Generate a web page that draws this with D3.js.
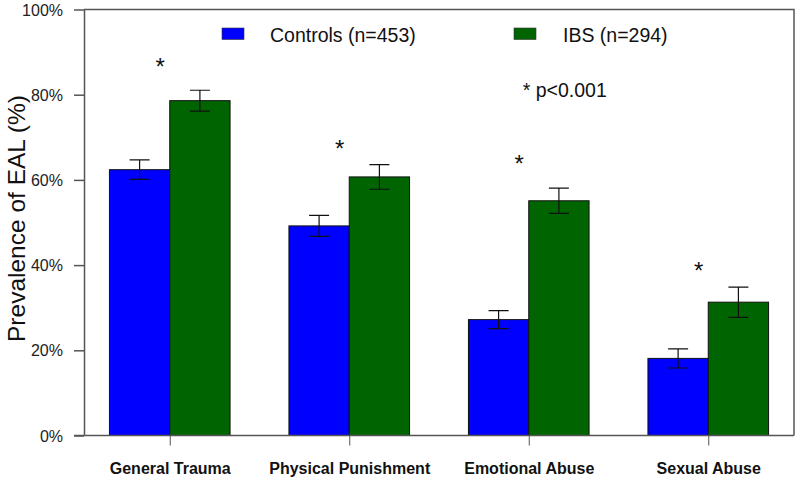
<!DOCTYPE html>
<html>
<head>
<meta charset="utf-8">
<script src="https://cdn.jsdelivr.net/npm/d3@7"></script>
<style>
  html, body { margin: 0; padding: 0; background: #fff; }
  svg { display: block; }
</style>
</head>
<body>
<svg id="chart" width="800" height="483"></svg>
<script>
// ---- data ----
const categories = ["General Trauma", "Physical Punishment", "Emotional Abuse", "Sexual Abuse"];
const seriesNames = ["Controls (n=453)", "IBS (n=294)"];
const controls = [62.4, 49.2, 27.2, 18.1];
const controlsErr = [2.3, 2.45, 2.1, 2.25];
const ibs = [78.6, 60.7, 55.1, 31.3];
const ibsErr = [2.45, 2.9, 2.95, 3.55];
const sigLevel = [87.9, 68.7, 65.1, 40.0]; // height (%) of "*" markers
const yTicks = [0, 20, 40, 60, 80, 100];
const yTitle = "Prevalence of EAL (%)";
const noteText = "* p<0.001";
const colors = ["#0000ff", "#006400"];

// ---- layout ----
const svg = d3.select("#chart");
const L = 84, R = 794, T = 9.5, B = 435.5;
const axisColor = "#555";

const x = d3.scalePoint().domain(categories).range([L, R]).padding(0.4777);
const y = d3.scaleLinear().domain([0, 100]).range([B, T]);
const barW = x.step() * 0.336;

// frame (top & right)
svg.append("path")
  .attr("d", `M${L},${T}H${R}V${B}`)
  .attr("fill", "none").attr("stroke", axisColor).attr("stroke-width", 1.5);

// bars
const series = [
  { vals: controls, errs: controlsErr, off: -1 },
  { vals: ibs, errs: ibsErr, off: 0 }
];
series.forEach((s, si) => {
  const g = svg.append("g");
  categories.forEach((c, i) => {
    const x0 = x(c) + s.off * barW;
    g.append("rect")
      .attr("x", x0).attr("y", y(s.vals[i]))
      .attr("width", barW).attr("height", y(0) - y(s.vals[i]))
      .attr("fill", colors[si]).attr("stroke", "#111").attr("stroke-width", 1);
    const cx = x0 + barW / 2;
    const hi = y(s.vals[i] + s.errs[i]), lo = y(s.vals[i] - s.errs[i]);
    g.append("path")
      .attr("d", `M${cx},${hi}V${lo}M${cx - 10},${hi}H${cx + 10}M${cx - 10},${lo}H${cx + 10}`)
      .attr("fill", "none").attr("stroke", "#111").attr("stroke-width", 1.2);
  });
});

// y axis
const yAxis = d3.axisLeft(y).tickValues(yTicks).tickFormat(d => d + "%").tickSize(10).tickSizeOuter(0);
const gy = svg.append("g").attr("transform", `translate(${L},0)`).call(yAxis);
gy.select(".domain").attr("stroke", axisColor).attr("stroke-width", 1.5);
gy.selectAll(".tick line").attr("stroke", axisColor).attr("stroke-width", 1.5);
gy.selectAll(".tick text")
  .attr("x", -21).attr("dy", "0.35em")
  .attr("font-family", "'Liberation Sans', Arial, sans-serif")
  .attr("font-size", "16px").attr("fill", "#222");

// x axis
const xAxis = d3.axisBottom(x).tickSize(10).tickSizeOuter(0);
const gx = svg.append("g").attr("transform", `translate(0,${B})`).call(xAxis);
gx.select(".domain").attr("d", `M${L - 10},0H${R}`).attr("stroke", axisColor).attr("stroke-width", 1.5);
gx.selectAll(".tick line").attr("stroke", axisColor).attr("stroke-width", 1);
gx.selectAll(".tick text")
  .attr("y", 38).attr("dy", 0)
  .attr("font-family", "'Liberation Sans', Arial, sans-serif")
  .attr("font-weight", "bold")
  .attr("font-size", "16px").attr("fill", "#111");

// significance markers
svg.append("g").selectAll("text").data(categories).join("text")
  .attr("x", d => x(d) - 9.5)
  .attr("y", (d, i) => y(sigLevel[i]) + 14)
  .attr("text-anchor", "middle")
  .attr("font-family", "'Liberation Sans', Arial, sans-serif")
  .attr("font-size", "24px").attr("fill", "#111")
  .text("*");

// y title
svg.append("text")
  .attr("transform", `translate(25,${(T + B) / 2 - 4}) rotate(-90)`)
  .attr("text-anchor", "middle")
  .attr("font-family", "'Liberation Sans', Arial, sans-serif")
  .attr("font-size", "24.5px").attr("fill", "#111")
  .text(yTitle);

// legend
const legX = [222, 514], legTextX = [270, 563];
seriesNames.forEach((n, i) => {
  svg.append("rect").attr("x", legX[i]).attr("y", 28).attr("width", 22).attr("height", 11.5)
    .attr("fill", colors[i]).attr("stroke", "#333").attr("stroke-width", 0.6);
  svg.append("text").attr("x", legTextX[i]).attr("y", 42.3)
    .attr("font-family", "'Liberation Sans', Arial, sans-serif")
    .attr("font-size", "19.5px").attr("fill", "#111").text(n);
});
svg.append("text").attr("x", 522.7).attr("y", 97.3)
  .attr("font-family", "'Liberation Sans', Arial, sans-serif")
  .attr("font-size", "19.5px").attr("fill", "#111").text(noteText);
</script>
</body>
</html>
